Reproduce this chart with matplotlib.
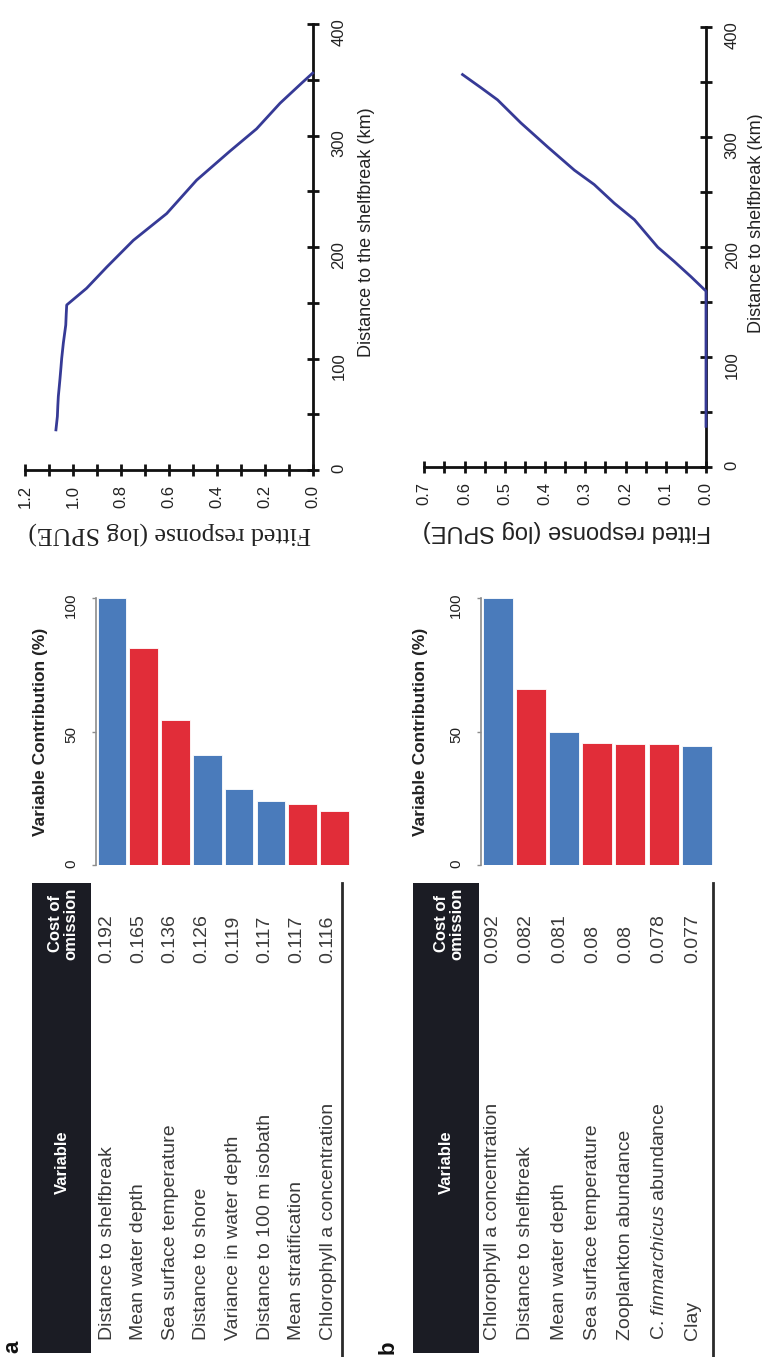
import matplotlib
matplotlib.use("Agg")
import numpy as np
import matplotlib.pyplot as plt
from matplotlib.ticker import FixedLocator, FormatStrFormatter
from matplotlib.patches import Rectangle

plt.rcParams["font.family"] = ["Liberation Sans", "DejaVu Sans"]
plt.rcParams["mathtext.fontset"] = "custom"
plt.rcParams["mathtext.rm"] = "Liberation Sans"
plt.rcParams["mathtext.it"] = "Liberation Sans:italic"

# ---------------- data ----------------
variables_a = ["Distance to shelfbreak", "Mean water depth", "Sea surface temperature",
               "Distance to shore", "Variance in water depth", "Distance to 100 m isobath",
               "Mean stratification", "Chlorophyll a concentration"]
cost_a = ["0.192", "0.165", "0.136", "0.126", "0.119", "0.117", "0.117", "0.116"]
contribution_a = [100, 81.2, 54.4, 41.3, 28.4, 24.1, 22.8, 20.4]
group_a = ["b", "r", "r", "b", "b", "b", "r", "r"]

variables_b = ["Chlorophyll a concentration", "Distance to shelfbreak", "Mean water depth",
               "Sea surface temperature", "Zooplankton abundance",
               r"C. $\mathit{finmarchicus}$ abundance", "Clay"]
cost_b = ["0.092", "0.082", "0.081", "0.08", "0.08", "0.078", "0.077"]
contribution_b = [100, 66.0, 49.8, 45.8, 45.3, 45.3, 44.7]
group_b = ["b", "r", "b", "r", "r", "r", "b"]

# fitted response curves (distance km, log SPUE)
distance_a = [36, 42, 48, 58, 66, 75, 82, 92, 100, 108, 114, 122, 130, 140, 148,
              163, 182, 206, 230, 260, 286, 306, 329, 347, 356]
response_a = [1.071, 1.068, 1.065, 1.063, 1.061, 1.057, 1.054, 1.050, 1.047, 1.043,
              1.040, 1.035, 1.030, 1.028, 1.026, 0.943, 0.859, 0.748, 0.609, 0.484,
              0.345, 0.234, 0.136, 0.046, 0.0]
distance_b = [37, 160, 173, 187, 200, 225, 240, 257, 270, 291, 313, 334, 345, 357]
response_b = [0.0, 0.0, 0.037, 0.079, 0.120, 0.178, 0.228, 0.278, 0.327, 0.393,
              0.460, 0.518, 0.559, 0.605]

# ---------------- styling ----------------
W, H = 762, 1357
BAR_COLORS = {"b": "#4a7bbb", "r": "#e12d39"}
LINE_COLOR = "#363a96"
AXIS_COLOR = "#111111"
HEADER_COLOR = "#1b1c24"
ROW_COLOR = "#3a3a3a"

fig = plt.figure(figsize=(W / 100, H / 100), dpi=100)


def box(x0, y0, x1, y1):
    """Pixel box (top-left origin) -> figure fraction rectangle."""
    return [x0 / W, 1 - y1 / H, (x1 - x0) / W, (y1 - y0) / H]


# canvas for the tables and panel letters, in pixel units
canvas = fig.add_axes([0, 0, 1, 1], zorder=0)
canvas.set_xlim(0, W)
canvas.set_ylim(H, 0)
canvas.axis("off")


def response_panel(bx, dist, resp, rmax, rmajor, rminor, dlabel, dlabel_pos,
                   rlabel_family, rlabel_size, rlabel_pos):
    ax = fig.add_axes(box(*bx))
    ax.patch.set_alpha(0)
    ax.plot(resp, dist, color=LINE_COLOR, lw=2.0, zorder=4, clip_on=False,
            solid_joinstyle="round")
    ax.set_xlim(rmax, 0)
    ax.set_ylim(0, 400)
    for s in ("top", "left"):
        ax.spines[s].set_visible(False)
    for s in ("right", "bottom"):
        ax.spines[s].set_linewidth(2.0)
        ax.spines[s].set_color(AXIS_COLOR)
    ax.yaxis.tick_right()
    majors = np.round(np.arange(0, rmax + 1e-9, rmajor), 2)
    minors = np.round(np.arange(0, rmax + 1e-9, rminor), 2)
    ax.xaxis.set_major_locator(FixedLocator(majors))
    ax.xaxis.set_minor_locator(FixedLocator(minors))
    ax.xaxis.set_major_formatter(FormatStrFormatter("%.1f"))
    ax.yaxis.set_major_locator(FixedLocator([0, 100, 200, 300, 400]))
    ax.yaxis.set_minor_locator(FixedLocator([50, 150, 250, 350]))
    ax.tick_params(which="both", direction="inout", length=9, width=2,
                   color=AXIS_COLOR)
    ax.tick_params(axis="x", labelrotation=90, labelsize=12, pad=6,
                   labelcolor="#222222")
    ax.tick_params(axis="y", labelrotation=90, labelsize=12, pad=9,
                   labelcolor="#222222")
    ax.text(*dlabel_pos, dlabel, transform=ax.transAxes, rotation=90,
            ha="center", va="center", fontsize=13, color="#222222")
    ax.text(*rlabel_pos, "Fitted response (log SPUE)", transform=ax.transAxes,
            rotation=180, ha="center", va="center", fontsize=rlabel_size,
            family=rlabel_family, color="#222222")
    return ax


def contribution_panel(bx, values, groups, xmax, label_x):
    ax = fig.add_axes(box(*bx))
    ax.patch.set_alpha(0)
    ax.bar(np.arange(len(values)), values, width=0.9,
           color=[BAR_COLORS[g] for g in groups], edgecolor="white", linewidth=0.6)
    ax.set_xlim(-0.5, xmax)
    ax.set_ylim(0, 100)
    for s in ("top", "right", "bottom"):
        ax.spines[s].set_visible(False)
    ax.spines["left"].set_color("#8c8c8c")
    ax.spines["left"].set_linewidth(1.2)
    ax.set_xticks([])
    ax.set_yticks([0, 50, 100])
    ax.tick_params(axis="y", direction="out", length=3, width=1, color="#8c8c8c",
                   labelsize=11, labelrotation=90, pad=10, labelcolor="#222222")
    ax.text(label_x, 0.5, "Variable Contribution (%)", transform=ax.transAxes,
            rotation=90, ha="center", va="center", fontsize=12.5,
            fontweight="bold", color="#222222")
    return ax


def cost_table(names, costs, row_x0, row_pitch, hdr_x0, hdr_x1, rule_x,
               var_cx, cost_cx):
    top, bottom = 883, 1353
    canvas.add_patch(Rectangle((hdr_x0, top), hdr_x1 - hdr_x0, bottom - top,
                               color=HEADER_COLOR, lw=0))
    canvas.text(var_cx, 1162, "Variable", rotation=90, ha="center", va="center",
                color="white", fontweight="bold", fontsize=12)
    canvas.text(cost_cx, 924, "Cost of\nomission", rotation=90, ha="center",
                va="center", color="white", fontweight="bold", fontsize=12,
                linespacing=1.0, multialignment="center")
    for i, (name, cost) in enumerate(zip(names, costs)):
        x = row_x0 + row_pitch * i
        canvas.text(x, 1340, name, rotation=90, ha="center", va="bottom",
                    fontsize=14, color=ROW_COLOR)
        canvas.text(x, 963, cost, rotation=90, ha="center", va="bottom",
                    fontsize=14, color=ROW_COLOR)
    canvas.plot([rule_x, rule_x], [top, H], color="#2a2a2a", lw=2)


# ---------------- panel a ----------------
response_panel((25, 24, 312.7, 470), distance_a, response_a, 1.2, 0.2, 0.1,
               "Distance to the shelfbreak (km)", (1.188, 0.5325),
               ["Liberation Serif", "DejaVu Serif"], 18.5, (0.504, -0.141))
contribution_panel((96, 598, 353.6, 865), contribution_a, group_a, 7.6, -0.217)
cost_table(variables_a, cost_a, 107, 31.6, 32, 91, 342, 62, 63)
canvas.text(13, 1347, "a", rotation=90, ha="center", va="center",
            fontsize=16, fontweight="bold", color="#111111")

# ---------------- panel b ----------------
response_panel((424.3, 27.3, 706, 467), distance_b, response_b, 0.7, 0.1, 0.05,
               "Distance to shelfbreak (km)", (1.1776, 0.555),
               ["Liberation Sans", "DejaVu Sans"], 17, (0.5066, -0.1456))
contribution_panel((481, 598, 716.7, 865), contribution_b, group_b, 6.6, -0.2546)
cost_table(variables_b, cost_b, 492.7, 33.3, 413, 479, 713, 446, 449.5)
canvas.text(388, 1347, "b", rotation=90, ha="center", va="center",
            fontsize=16, fontweight="bold", color="#111111")

fig.savefig("out.png", dpi=100)
